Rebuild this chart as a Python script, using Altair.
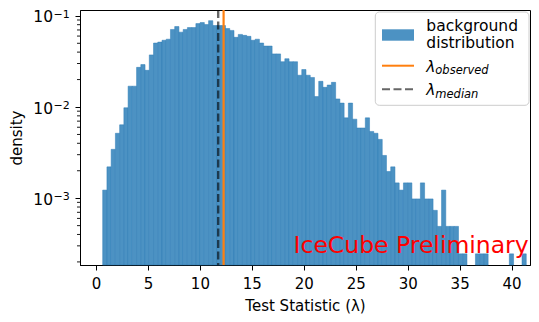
import altair as alt
import numpy as np
import pandas as pd

# ---- data ----
bin_lo = 0.644
bin_hi = 41.41
counts = [5, 9, 14, 21, 26, 40, 69, 69, 111, 119,
          103, 152, 205, 210, 220, 226, 289, 311, 270, 289,
          303, 303, 335, 344, 327, 361, 319, 319, 319, 296,
          282, 237, 255, 249, 243, 220, 226, 205, 190, 190,
          156, 156, 128, 138, 128, 128, 91, 105, 91, 86,
          53, 78, 67, 71, 76, 50, 45, 31, 45, 30,
          24, 24, 31, 22, 21, 18, 12, 8, 9, 6,
          5, 6, 6, 4, 4, 6, 4, 4, 3, 2,
          5, 2, 2, 2, 1, 1, 0, 0, 1, 1,
          1, 0, 0, 0, 0, 0, 1, 0, 0, 1]
n_trials = 10000
lambda_observed = [12.28]
lambda_median = [11.76]
x_ticks = [0, 5, 10, 15, 20, 25, 30, 35, 40]
y_major = [1e-3, 1e-2, 1e-1]
y_major_exp = ["\u22123", "\u22122", "\u22121"]
y_minor = [2e-4, 3e-4, 4e-4, 5e-4, 6e-4, 7e-4, 8e-4, 9e-4,
           2e-3, 3e-3, 4e-3, 5e-3, 6e-3, 7e-3, 8e-3, 9e-3,
           2e-2, 3e-2, 4e-2, 5e-2, 6e-2, 7e-2, 8e-2, 9e-2]

edges = np.linspace(bin_lo, bin_hi, len(counts) + 1)
bw = edges[1] - edges[0]
hist = pd.DataFrame({"x0": edges[:-1], "x1": edges[1:], "count": counts})
hist["density"] = hist["count"] / (n_trials * bw)
hist = hist[hist["count"] > 0]

W, H = 450, 255
FONT = "DejaVu Sans"
xscale = alt.Scale(domain=[-1.54, 41.77], nice=False, zero=False)
yscale = alt.Scale(type="log", domain=[1.85e-4, 0.1159], nice=False)
xaxis = alt.Axis(values=x_ticks, format="d", title="Test Statistic (\u03bb)",
                 tickSize=5, labelPadding=6, titlePadding=7)
yaxis = alt.Axis(values=y_major, labels=False, tickSize=5,
                 title="density", titlePadding=50)

bars = alt.Chart(hist).mark_rect(
    fill="#4c92c3", stroke="#2f7cb6", strokeWidth=0.5
).encode(
    x=alt.X("x0:Q", scale=xscale, axis=xaxis),
    x2="x1:Q",
    y=alt.Y("density:Q", scale=yscale, axis=yaxis),
    y2=alt.value(H),
)

med = alt.Chart(pd.DataFrame({"lam": lambda_median})).mark_rule(
    color="black", opacity=0.6, strokeWidth=2.4, strokeDash=[8, 3.5]
).encode(x=alt.X("lam:Q", scale=xscale, axis=xaxis))

obs = alt.Chart(pd.DataFrame({"lam": lambda_observed})).mark_rule(
    color="#ff7f0e", strokeWidth=2.2
).encode(x=alt.X("lam:Q", scale=xscale, axis=xaxis))

minor = alt.Chart(pd.DataFrame({"v": y_minor})).mark_rule(
    color="black", strokeWidth=0.9
).encode(y=alt.Y("v:Q", scale=yscale, axis=yaxis),
         x=alt.value(-3), x2=alt.value(0))

ylab_df = pd.DataFrame({"v": y_major, "e": y_major_exp})
ylab_base = alt.Chart(ylab_df).mark_text(
    font=FONT, fontSize=15.5, align="right", baseline="alphabetic", dy=6.5, color="black"
).encode(y=alt.Y("v:Q", scale=yscale, axis=yaxis), x=alt.value(-27), text=alt.value("10"))
ylab_exp = alt.Chart(ylab_df).mark_text(
    font=FONT, fontSize=11, align="left", baseline="alphabetic", dy=1.7, color="black"
).encode(y=alt.Y("v:Q", scale=yscale, axis=yaxis), x=alt.value(-26.5), text="e:N")

one = alt.Chart(pd.DataFrame({"d": [0]}))

LX = 295.3  # legend box left (plot coords)
leg_box = one.mark_rect(fill="white", fillOpacity=0.8, stroke="#cccccc",
                        strokeWidth=1, cornerRadius=4).encode(
    x=alt.value(LX), x2=alt.value(LX + 153.7), y=alt.value(2), y2=alt.value(95.3))
leg_patch = one.mark_rect(fill="#4c92c3").encode(
    x=alt.value(LX + 6.7), x2=alt.value(LX + 38.7), y=alt.value(19.3), y2=alt.value(30.7))
leg_t1 = one.mark_text(font=FONT, fontSize=15.5, align="left", baseline="alphabetic",
                       color="black").encode(x=alt.value(LX + 51), y=alt.value(20.8),
                                             text=alt.value("background"))
leg_t2 = one.mark_text(font=FONT, fontSize=15.5, align="left", baseline="alphabetic",
                       color="black").encode(x=alt.value(LX + 51), y=alt.value(38.3),
                                             text=alt.value("distribution"))
leg_obs = one.mark_rule(color="#ff7f0e", strokeWidth=2).encode(
    x=alt.value(LX + 6.7), x2=alt.value(LX + 38.7), y=alt.value(55.7))
leg_med = one.mark_rule(color="black", opacity=0.6, strokeWidth=2, strokeDash=[8, 3.5]).encode(
    x=alt.value(LX + 6.7), x2=alt.value(LX + 38.7), y=alt.value(79.3))
lam1 = one.mark_text(font=FONT, fontSize=15.5, fontStyle="italic", align="left",
                     baseline="alphabetic", color="black").encode(
    x=alt.value(LX + 51), y=alt.value(61.5), text=alt.value("\u03bb"))
sub1 = one.mark_text(font=FONT, fontSize=11.5, fontStyle="italic", align="left",
                     baseline="alphabetic", color="black").encode(
    x=alt.value(LX + 60), y=alt.value(64.3), text=alt.value("observed"))
lam2 = one.mark_text(font=FONT, fontSize=15.5, fontStyle="italic", align="left",
                     baseline="alphabetic", color="black").encode(
    x=alt.value(LX + 51), y=alt.value(85), text=alt.value("\u03bb"))
sub2 = one.mark_text(font=FONT, fontSize=11.5, fontStyle="italic", align="left",
                     baseline="alphabetic", color="black").encode(
    x=alt.value(LX + 60), y=alt.value(87.5), text=alt.value("median"))

ice = one.mark_text(font=FONT, fontSize=23.5, align="right", baseline="alphabetic",
                    color="red").encode(x=alt.value(W - 1.3), y=alt.value(242.5),
                                        text=alt.value("IceCube Preliminary"))

chart = alt.layer(
    bars, med, obs, minor, ylab_base, ylab_exp,
    leg_box, leg_patch, leg_t1, leg_t2, leg_obs, leg_med, lam1, sub1, lam2, sub2, ice
).properties(
    width=W, height=H,
    autosize=alt.AutoSizeParams(type="none"),
    padding={"left": 72, "top": 2, "right": 1, "bottom": 55},
).configure_view(
    stroke="black", strokeWidth=1
).configure_axis(
    grid=False, domainColor="black", tickColor="black", labelColor="black",
    titleColor="black", labelFont=FONT, titleFont=FONT, labelFontSize=15,
    titleFontSize=15, titleFontWeight="normal", tickWidth=1, domainWidth=1
)

chart.save("out.html", embed_options={"renderer": "svg", "actions": False})
